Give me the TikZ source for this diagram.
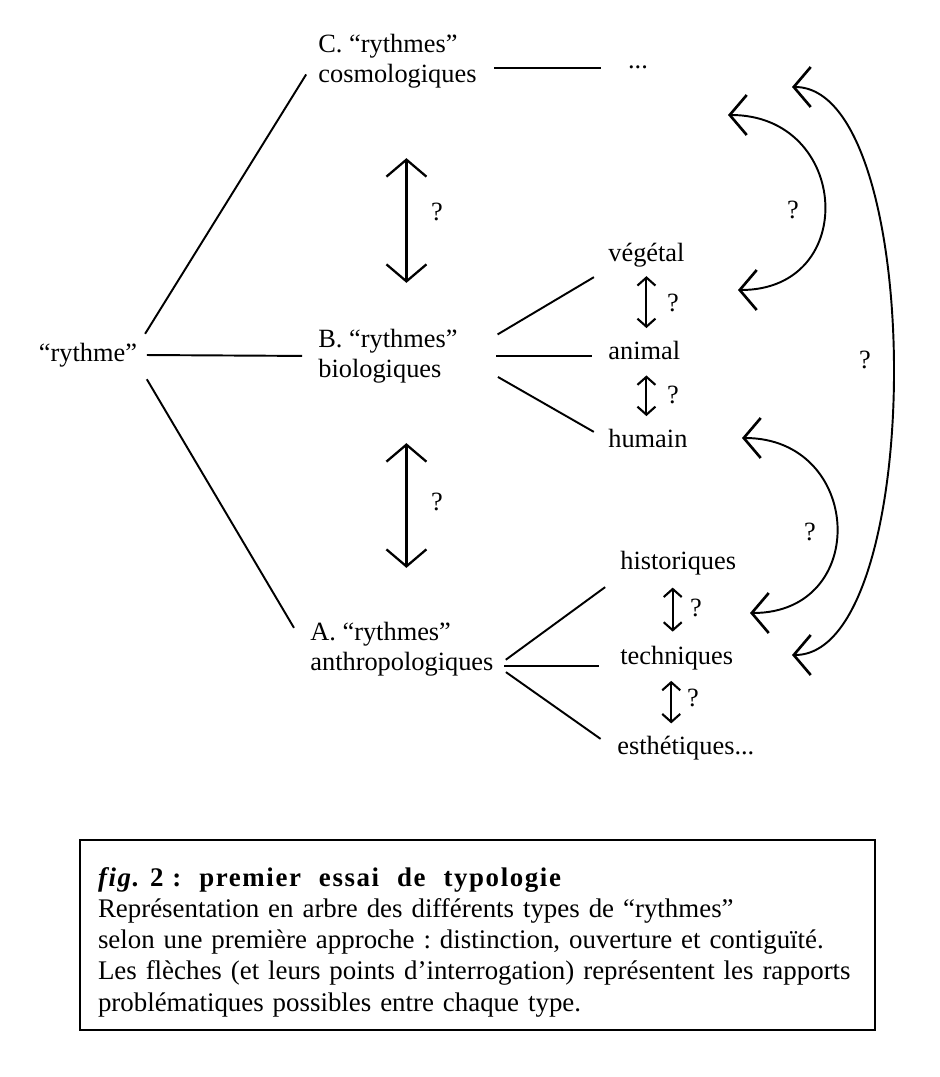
\documentclass[tikz,border=0pt]{standalone}
\usepackage{fontspec}
\setmainfont{Liberation Serif}
\usepackage{tikz}
\usetikzlibrary{arrows.meta}

\begin{document}
\begin{tikzpicture}[
  every node/.style={font=\fontsize{15}{17.4}\selectfont},
  typ/.style={anchor=west, align=left, inner sep=2pt},
  leaf/.style={anchor=west, inner sep=2pt},
  branch/.style={line width=1.1pt},
  bigarrow/.style={line width=1.3pt, {Straight Barb[length=0.34cm,width=0.8cm]}-{Straight Barb[length=0.34cm,width=0.8cm]}},
  smallarrow/.style={line width=1.2pt, {Straight Barb[length=0.16cm,width=0.36cm]}-{Straight Barb[length=0.16cm,width=0.36cm]}},
  link/.style={line width=1.1pt, {Straight Barb[length=0.34cm,width=0.8cm,line width=1.5pt]}-{Straight Barb[length=0.34cm,width=0.8cm,line width=1.5pt]}},
  caption/.style={draw, line width=1.3pt, text width=15.18cm, minimum height=3.8cm, inner xsep=0.36cm, align=left, font=\fontsize{15.3}{17.7}\selectfont\frenchspacing}
]
\useasboundingbox (0,0) rectangle (18.8,-21.54);

\node (rythme) at (1.76,-7.1) {“rythme”};
\node[typ] (cosmo) at (6.29,-1.22) {C. “rythmes”\\cosmologiques};
\node[typ] (bio) at (6.29,-7.12) {B. “rythmes”\\biologiques};
\node[typ] (anthropo) at (6.13,-12.98) {A. “rythmes”\\anthropologiques};
\node[anchor=base] (etc) at (12.76,-1.38) {...};

\node[leaf] (vegetal) at (12.09,-5.1) {végétal};
\node[leaf] (animal) at (12.09,-7.0) {animal};
\node[leaf] (humain) at (12.09,-8.76) {humain};
\node[leaf] (histo) at (12.33,-11.26) {historiques};
\node[leaf] (techn) at (12.33,-13.16) {techniques};
\node[leaf] (esthe) at (12.27,-14.96) {esthétiques...};

\node (q1) at (8.74,-4.24) {?};
\node (q2) at (8.74,-10.04) {?};
\node (q3) at (13.46,-6.06) {?};
\node (q4) at (13.46,-7.9) {?};
\node (q5) at (13.92,-12.16) {?};
\node (q6) at (13.86,-13.96) {?};
\node (q7) at (15.86,-4.2) {?};
\node (q8) at (16.2,-10.64) {?};
\node (q9) at (17.3,-7.2) {?};

\draw[branch, shorten <=2pt, shorten >=9pt] (rythme.north east) -- (cosmo.west);
\draw[branch, shorten <=2pt, shorten >=7pt] (rythme.east) -- (bio.west);
\draw[branch, shorten <=4pt, shorten >=14pt] (rythme.south east) -- (anthropo.west);
\draw[branch, shorten <=8pt, shorten >=12pt] (cosmo.east |- etc.west) -- (etc.west);

\draw[branch, shorten <=24pt, shorten >=7pt] (bio.east) -- (vegetal.south west);
\draw[branch, shorten <=20pt, shorten >=7pt] (bio.east) -- (bio.east -| animal.west);
\draw[branch, shorten <=24pt, shorten >=7pt] (bio.east) -- (humain.west);
\draw[branch, shorten <=6pt, shorten >=8pt] ([yshift=-0.34cm]anthropo.east) -- (histo.south west);
\draw[branch, shorten <=4pt, shorten >=10pt] ([yshift=-0.34cm]anthropo.east) -- ([yshift=-0.34cm]anthropo.east -| techn.west);
\draw[branch, shorten <=6pt, shorten >=9pt] ([yshift=-0.34cm]anthropo.east) -- (esthe.west);

\draw[bigarrow, shorten <=1.32cm, shorten >=0.84cm] ([xshift=0.18cm]cosmo.south) -- ([xshift=0.18cm]cosmo.south |- bio.north);
\draw[bigarrow, shorten <=1.12cm, shorten >=1.0cm] ([xshift=0.37cm]bio.south) -- ([xshift=0.37cm]bio.south |- anthropo.north);

\draw[smallarrow, shorten <=3pt, shorten >=5pt] (vegetal.south) -- (vegetal.south |- animal.north);
\draw[smallarrow, shorten <=7pt, shorten >=5pt] (animal.south -| vegetal.south) -- (humain.north -| vegetal.south);
\draw[smallarrow, shorten <=5pt, shorten >=6pt] ([xshift=-1.1mm]histo.south) -- ([xshift=-1.1mm]histo.south |- techn.north);
\draw[smallarrow, shorten <=4pt, shorten >=5pt] ([xshift=-1.1mm]techn.south) -- ([xshift=-1.1mm]techn.south |- esthe.north);

\coordinate (cosmoR) at (14.56,-2.3);
\coordinate (vegetalR) at (14.76,-5.8);
\coordinate (humainR) at (14.84,-8.76);
\coordinate (histoR) at (15.0,-12.26);
\coordinate (topR) at (15.84,-1.74);
\coordinate (technR) at (15.84,-13.1);

\draw[link] (cosmoR) .. controls (17.0,-2.3) and (17.2,-5.8) .. (vegetalR);
\draw[link] (humainR) .. controls (17.26,-8.76) and (17.42,-12.26) .. (histoR);
\draw[link] (topR) .. controls (18.54,-1.74) and (18.54,-13.1) .. (technR);

\node[caption] (legend) at (9.55,-18.7) {\baselineskip=17.7pt\rule{0pt}{19pt}{\bfseries\addfontfeature{LetterSpace=6}\textit{fig.} 2 :\ \ premier\ \ essai\ \ de\ \ typologie}\\
Représentation en arbre des différents types de “rythmes”\\
selon une première approche : distinction, ouverture et contiguïté.\\
Les flèches (et leurs points d’interrogation) représentent les rapports\\
problématiques possibles entre chaque type.\par};
\end{tikzpicture}
\end{document}
